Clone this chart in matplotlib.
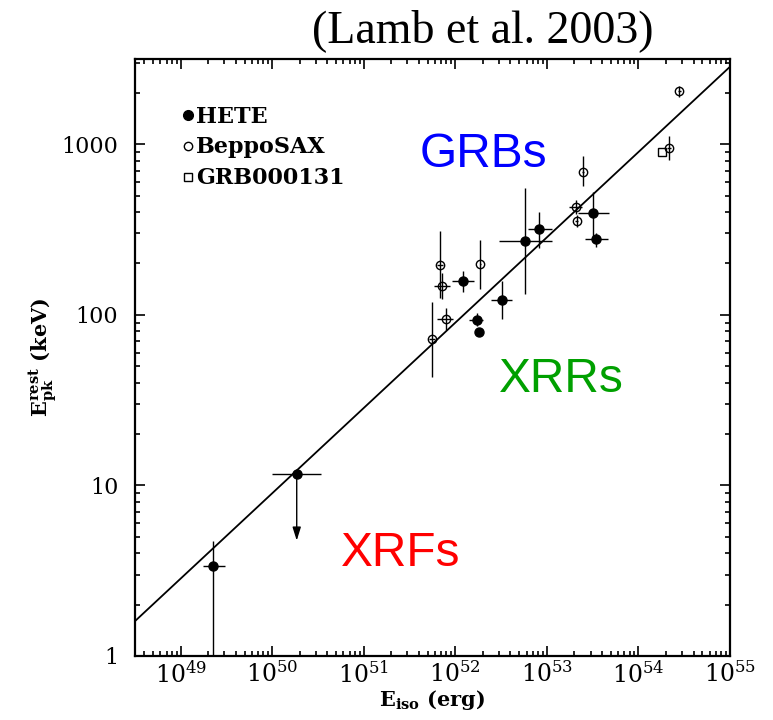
import matplotlib
matplotlib.use("Agg")
import matplotlib.pyplot as plt
import numpy as np
from matplotlib.ticker import LogLocator, NullFormatter

plt.rcParams["font.family"] = ["DejaVu Serif"]
plt.rcParams["mathtext.fontset"] = "dejavuserif"

# HETE-2 bursts (filled circles): E_iso [erg], E_pk rest [keV], with ranges
hete_e = [2.28e49, 1.21e52, 1.74e52, 1.82e52, 3.2e52, 5.82e52, 8.28e52, 3.22e53, 3.44e53]
hete_e_lo = [1.75e49, 9.1e51, 1.42e52, 1.82e52, 2.48e52, 2.97e52, 6.17e52, 2.17e53, 2.63e53]
hete_e_hi = [3.02e49, 1.58e52, 1.99e52, 1.82e52, 4.11e52, 1.14e53, 1.14e53, 4.73e53, 4.61e53]
hete_ep = [3.36, 158, 92.7, 79.6, 122.7, 271, 317, 398, 280]
hete_ep_lo = [0.5, 136, 86, 79.6, 95, 132, 248, 290, 251]
hete_ep_hi = [4.75, 181, 103, 79.6, 158, 557, 403, 525, 303]

# HETE-2 upper limit (XRF)
ul_e = 1.85e50
ul_e_lo = 1.0e50
ul_e_hi = 3.44e50
ul_ep = 11.7
ul_ep_limit = 4.75

# BeppoSAX bursts (open circles)
sax_e = [5.6e51, 7.9e51, 7.15e51, 6.8e51, 1.88e52, 2.48e53, 2.08e53, 2.11e53, 2.8e54, 2.14e54]
sax_e_lo = [5.2e51, 6.3e51, 5.78e51, 6.3e51, 1.84e52, 2.4e53, 1.76e53, 2.05e53, 2.7e54, 2.05e54]
sax_e_hi = [6.0e51, 9.5e51, 8.79e51, 7.4e51, 1.92e52, 2.56e53, 2.45e53, 2.17e53, 2.9e54, 2.25e54]
sax_ep = [71.7, 94, 147, 196, 198, 692, 426, 353, 2060, 945]
sax_ep_lo = [43.3, 82, 123, 126, 141, 570, 389, 329, 1900, 807]
sax_ep_hi = [119, 110, 177, 308, 275, 848, 472, 384, 2200, 1120]

# GRB000131 (open square)
grb131_e = [1.82e54]
grb131_ep = [902]

# best-fit power law E_pk = A * (E_iso / 1e52)^slope
fit_norm = 90.0
fit_slope = 0.5

xlim = (10 ** 48.5, 1e55)
ylim = (1, 10 ** 3.5)


def asym(vals, lo, hi):
    vals = np.array(vals)
    return np.array([vals - np.array(lo), np.array(hi) - vals])


fig = plt.figure(figsize=(7.73, 7.2), dpi=100)
ax = fig.add_axes([0.1746, 0.0889, 0.7697, 0.8292])
ax.set_xscale("log")
ax.set_yscale("log")
ax.set_xlim(*xlim)
ax.set_ylim(*ylim)

# fit line
xx = np.logspace(48.5, 55, 200)
ax.plot(xx, fit_norm * (xx / 1e52) ** fit_slope, color="black", lw=1.3, zorder=2)

err_kw = dict(ecolor="black", elinewidth=1.0, capsize=0, ls="none", zorder=3)

ax.errorbar(hete_e, hete_ep,
            xerr=asym(hete_e, hete_e_lo, hete_e_hi),
            yerr=asym(hete_ep, hete_ep_lo, hete_ep_hi),
            fmt="o", ms=6.5, mfc="black", mec="black", **err_kw)

ax.errorbar([ul_e], [ul_ep], xerr=[[ul_e - ul_e_lo], [ul_e_hi - ul_e]],
            fmt="o", ms=6.5, mfc="black", mec="black", **err_kw)
ax.annotate("", xy=(ul_e, ul_ep_limit), xytext=(ul_e, ul_ep),
            arrowprops=dict(arrowstyle="-|>,head_length=0.8,head_width=0.25",
                            color="black", lw=1.0, shrinkA=0, shrinkB=0))

ax.errorbar(sax_e, sax_ep,
            xerr=asym(sax_e, sax_e_lo, sax_e_hi),
            yerr=asym(sax_ep, sax_ep_lo, sax_ep_hi),
            fmt="o", ms=6, mfc="none", mec="black", mew=1.0, **err_kw)

ax.plot(grb131_e, grb131_ep, "s", ms=6, mfc="none", mec="black", mew=1.0, zorder=3)

# key in the upper-left corner
ax.plot([], [], "o", ms=7, color="black", label="HETE")
ax.plot([], [], "o", ms=6, mfc="none", mec="black", label="BeppoSAX")
ax.plot([], [], "s", ms=6, mfc="none", mec="black", label="GRB000131")
handles, labels = ax.get_legend_handles_labels()
ax.legend(handles[-3:], labels[-3:], loc="upper left", bbox_to_anchor=(0.08, 0.922),
          frameon=False, handlelength=0.5, handletextpad=0.1, labelspacing=0.4,
          borderpad=0, borderaxespad=0, prop=dict(size=16, weight="bold"))

# ticks on all sides, pointing in
ax.xaxis.set_major_locator(LogLocator(base=10, numticks=20))
ax.xaxis.set_minor_locator(LogLocator(base=10, subs=np.arange(2, 10), numticks=20))
ax.xaxis.set_minor_formatter(NullFormatter())
ax.yaxis.set_minor_formatter(NullFormatter())
ax.set_xticks([1e49, 1e50, 1e51, 1e52, 1e53, 1e54, 1e55])
ax.set_xticklabels([r"$10^{%d}$" % p for p in range(49, 56)])
ax.set_yticks([1, 10, 100, 1000])
ax.set_yticklabels(["1", "10", "100", "1000"])
ax.tick_params(which="both", direction="in", top=True, right=True, width=1.2)
ax.tick_params(which="major", length=7)
ax.tick_params(which="minor", length=3.5)
ax.tick_params(axis="x", labelsize=17, pad=4)
ax.tick_params(axis="y", labelsize=16, pad=12)
for sp in ax.spines.values():
    sp.set_linewidth(1.6)

ax.set_xlabel(r"$\mathbf{E_{iso}}$ (erg)", fontsize=15, fontweight="bold", labelpad=0)
ax.set_ylabel(r"$\mathbf{E_{pk}^{rest}}$ (keV)", fontsize=15, fontweight="bold", labelpad=2)

fig.text(0.624, 0.958, "(Lamb et al. 2003)", family="Liberation Serif", fontsize=33,
         ha="center", va="center")
fig.text(0.626, 0.768, "GRBs", family="Liberation Sans", fontsize=34.5,
         color="#0000ff", ha="center", va="baseline")
fig.text(0.726, 0.455, "XRRs", family="Liberation Sans", fontsize=34.5,
         color="#00a000", ha="center", va="baseline")
fig.text(0.518, 0.214, "XRFs", family="Liberation Sans", fontsize=34.5,
         color="#ff0000", ha="center", va="baseline")

fig.savefig("out.png", dpi=100)
